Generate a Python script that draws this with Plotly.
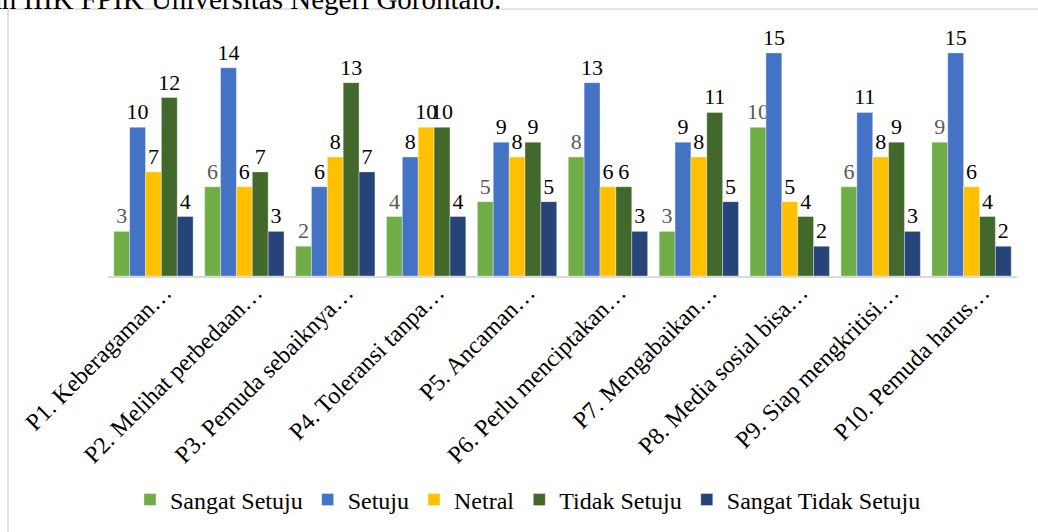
import plotly.graph_objects as go

categories = [
    "P1. Keberagaman…", "P2. Melihat perbedaan…", "P3. Pemuda sebaiknya…",
    "P4. Toleransi tanpa…", "P5. Ancaman…", "P6. Perlu menciptakan…",
    "P7. Mengabaikan…", "P8. Media sosial bisa…", "P9. Siap mengkritisi…",
    "P10. Pemuda harus…",
]
sangat_setuju = [3, 6, 2, 4, 5, 8, 3, 10, 6, 9]
setuju = [10, 14, 6, 8, 9, 13, 9, 15, 11, 15]
netral = [7, 6, 8, 10, 8, 6, 8, 5, 8, 6]
tidak_setuju = [12, 7, 13, 10, 9, 6, 11, 4, 9, 4]
sangat_tidak_setuju = [4, 3, 7, 4, 5, 3, 5, 2, 3, 2]

series = [
    ("Sangat Setuju", sangat_setuju, "#70AD47", "#595959"),
    ("Setuju", setuju, "#4472C4", "#000000"),
    ("Netral", netral, "#FFC000", "#000000"),
    ("Tidak Setuju", tidak_setuju, "#43682B", "#000000"),
    ("Sangat Tidak Setuju", sangat_tidak_setuju, "#264478", "#000000"),
]

FONT = "Liberation Serif, Times New Roman, serif"
W, H = 1038, 532
L, R, T, B = 108, 21, 38, 256
ph = H - T - B
pw = W - L - R

fig = go.Figure()
for name, vals, color, tcolor in series:
    fig.add_trace(go.Bar(
        x=categories, y=vals, name=name,
        marker=dict(color=color, line=dict(width=0.6, color="rgba(255,255,255,0.6)")),
        text=[str(v) for v in vals], textposition="outside",
        textfont=dict(family=FONT, size=22, color=tcolor),
        constraintext="none", cliponaxis=False,
    ))

def px_x(p):
    return (p - L) / pw

def px_y(p):
    return (H - B - p) / ph

fig.update_layout(
    width=W, height=H,
    margin=dict(l=L, r=R, t=T, b=B, autoexpand=False),
    paper_bgcolor="white", plot_bgcolor="white",
    barmode="group", bargap=0.127, bargroupgap=0,
    font=dict(family=FONT, size=22, color="#000000"),
    showlegend=True,
    legend=dict(orientation="h", x=px_x(528), xanchor="center", y=px_y(500), yanchor="middle",
                font=dict(family=FONT, size=24, color="#000000"),
                itemwidth=30, tracegroupgap=0),
    xaxis=dict(showline=True, linecolor="#D9D9D9", linewidth=2, ticks="",
               tickangle=-45, tickfont=dict(family=FONT, size=24, color="#000000"),
               showgrid=False, ticklabelshift=11, ticklabelstandoff=-9, automargin=False),
    yaxis=dict(visible=False, range=[0, 16], showgrid=False, automargin=False),
    shapes=[dict(type="rect", xref="paper", yref="paper",
                 x0=px_x(8), x1=px_x(1050), y0=px_y(545), y1=px_y(9),
                 line=dict(color="#D9D9D9", width=1.5), layer="below")],
    annotations=[dict(text="an IIIK FPIK Universitas Negeri Gorontalo.", xref="paper", yref="paper",
                      x=px_x(-13), y=px_y(17), xanchor="left", yanchor="bottom",
                      showarrow=False, font=dict(family=FONT, size=29, color="#000000"))],
)

fig.write_html("out.html", config={"displayModeBar": False},
               post_script="document.body.style.margin='0';document.body.style.overflow='hidden';")
